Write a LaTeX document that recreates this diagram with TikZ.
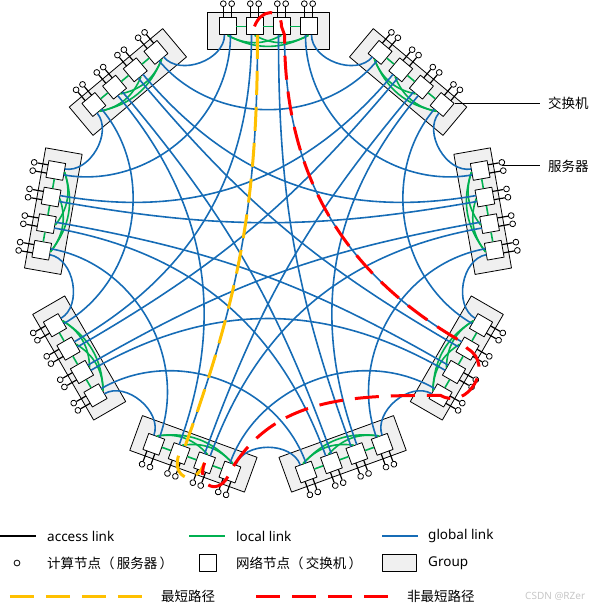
\documentclass[tikz,border=0pt]{standalone}
\usepackage{fontspec}
\setmainfont{Noto Sans}
\newfontfamily\cjk{Noto Sans CJK SC}
\usetikzlibrary{shapes, positioning, calc}

\definecolor{glink}{RGB}{22,108,182}
\definecolor{llink}{RGB}{0,176,80}
\definecolor{spath}{RGB}{255,192,0}
\definecolor{npath}{RGB}{255,0,0}
\definecolor{grpfill}{RGB}{240,240,240}

\begin{document}
\begin{tikzpicture}[x=1pt, y=1pt, line join=round,
    font=\fontsize{13.5}{16}\selectfont]

  \tikzset{grp/.style={draw, fill=grpfill, line width=0.8pt, minimum width=122pt, minimum height=37pt, inner sep=0pt}}
  \tikzset{sw/.style={draw, fill=white, line width=0.8pt, minimum size=17pt, inner sep=0pt}}
  \tikzset{srv/.style={draw, circle, fill=white, line width=0.8pt, minimum size=5.8pt, inner sep=0pt}}
  \tikzset{acc/.style={line width=1.2pt}}
  \tikzset{loc/.style={line width=1.6pt, llink}}
  \tikzset{glb/.style={line width=1.6pt, glink}}
  \tikzset{pth/.style={line width=3pt, dash pattern=on 24pt off 12pt}}
  \tikzset{lbl/.style={anchor=west, inner sep=0pt}}

  \useasboundingbox (-268,-355) rectangle (322,249);

  % groups
  \foreach \i in {0,...,8} {
    \pgfmathsetmacro\ang{90+40*\i}
    \begin{scope}[shift={(\ang:218)}, rotate=\ang-90, transform shape]
      \node[grp] (grp\i) at (0,0) {};
      \foreach \k in {0,...,3} {
        \pgfmathsetmacro\sx{27*\k-40.5}
        \node[sw] (sw\i\k) at (\sx,4.6) {};
        \coordinate (lk\i\k a) at (\sx-3,-3.9);
        \coordinate (lk\i\k b) at (\sx+3,-3.9);
        \foreach \j/\dx in {0/-4.2, 1/4.2} {
          \node[srv] (sv\i\k\j) at (\sx+\dx,27.3) {};
          \coordinate (ac\i\k\j) at (\sx+\dx,13.1);
          \draw[acc] (ac\i\k\j) -- (sv\i\k\j);
        }
      }
    \end{scope}
  }

  % local links
  \foreach \i in {0,...,8} {
    \draw[loc] (sw\i0) -- (sw\i1);
    \draw[loc] (sw\i1) -- (sw\i2);
    \draw[loc] (sw\i2) -- (sw\i3);
    \draw[loc] (sw\i0.south) to[bend right=28] (sw\i2.south);
    \draw[loc] (sw\i1.south) to[bend right=28] (sw\i3.south);
    \draw[loc] (sw\i0.south) to[bend right=28] (sw\i3.south);
  }

  % global links
  \foreach \i in {0,...,8} {
    \foreach \dd/\k/\ks/\m/\ms in {1/0/a/3/b, 2/0/b/3/a, 3/1/a/2/b, 4/1/b/2/a} {
      \pgfmathtruncatemacro\j{mod(\i+\dd,9)}
      \pgfmathsetmacro\ao{90+40*\i+180}
      \pgfmathsetmacro\ai{90+40*\j+180}
      \draw[glb] (lk\i\k\ks) to[out=\ao, in=\ai] (lk\j\m\ms);
    }
  }

  % shortest path
  \draw[pth, spath] (lk01b) to[out=270, in=70] (lk42a) -- (sw42.center)
    to[out=-110, in=-110, looseness=2.5] (sw41.center);

  % non-shortest path
  \draw[pth, npath] (sw01.center) to[out=70, in=90, looseness=1.8] (sw02.center)
    -- (lk02b) to[out=270, in=150] (lk61a) -- (sw61.center)
    to[out=-30, in=-30, looseness=1.5] (sw63.center)
    to[out=180, in=60] (sw40.center)
    to[out=-110, in=-110, looseness=2.5] (sw41.center);

  % callouts
  \coordinate (cend) at (272,0);
  \node[lbl] (lblsw) at (280,146) {\cjk 交换机};
  \draw[line width=0.8pt] (sw83.north east) -- (sw83.north east -| cend);
  \node[lbl] (lblsv) at (280,83) {\cjk 服务器};
  \draw[line width=0.8pt] (sv700.east) -- (sv700.east -| cend);

  % legend
  \draw[line width=1.2pt] (-268,-287) -- (-232,-287);
  \node[lbl] (lgacc) at (-221,-287) {access link};
  \draw[loc] (-79,-287) -- (-43,-287);
  \node[lbl] (lgloc) at (-32,-287) {local link};
  \draw[glb] (114,-287) -- (150,-287);
  \node[lbl] (lgglb) at (160,-287) {global link};

  \node[srv] (lgsv) at (-251,-314) {};
  \node[lbl] (lgsvt) at (-221,-314) {\cjk 计算节点（\,服务器\,）};
  \node[sw] (lgsw) at (-60.5,-314) {};
  \node[lbl] (lgswt) at (-32,-314) {\cjk 网络节点（\,交换机\,）};
  \node[grp, minimum width=34pt, minimum height=17pt] (lggrp) at (131,-314) {};
  \node[lbl] (lggrpt) at (160,-314) {Group};

  \draw[pth, spath] (-258,-347) -- (-118,-347);
  \node[lbl] (lgsp) at (-107,-347) {\cjk 最短路径};
  \draw[pth, npath] (-12,-347) -- (129,-347);
  \node[lbl] (lgnp) at (139,-347) {\cjk 非最短路径};
  \node[lbl, text=black!22, font=\fontsize{10}{12}\selectfont] (wmark) at (257,-347) {CSDN @RZer};
\end{tikzpicture}
\end{document}
